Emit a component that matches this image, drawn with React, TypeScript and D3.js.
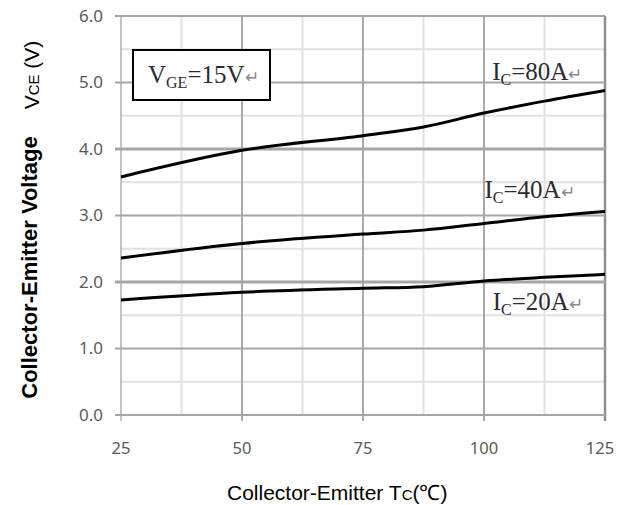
import React from "react";
import * as d3 from "d3";

const temps = [25, 50, 75, 87.5, 100, 112.5, 125];
const vce80 = [3.58, 3.98, 4.2, 4.33, 4.54, 4.72, 4.88];
const vce40 = [2.36, 2.58, 2.72, 2.78, 2.88, 2.98, 3.06];
const vce20 = [1.73, 1.845, 1.905, 1.93, 2.015, 2.07, 2.115];
const xTicks = [25, 50, 75, 100, 125];
const yTicks = [0, 1, 2, 3, 4, 5, 6];
const xMinor = [37.5, 62.5, 87.5, 112.5];
const yMinor = [0.5, 1.5, 2.5, 3.5, 4.5, 5.5];
const seriesLabels = [
  { cur: "80A", t: 101.7, v: 5.04 },
  { cur: "40A", t: 100.1, v: 3.27 },
  { cur: "20A", t: 101.8, v: 1.58 },
];

const W = 618, H = 505;
const L = 121, R = 605, T = 16, B = 415;

export default function App() {
  const x = d3.scaleLinear().domain([25, 125]).range([L, R]);
  const y = d3.scaleLinear().domain([0, 6]).range([B, T]);
  const line = d3
    .line<number>()
    .x((_, i) => x(temps[i]))
    .y((d) => y(d))
    .curve(d3.curveMonotoneX);
  const series = [vce80, vce40, vce20];
  const serif = "'Liberation Serif', 'Times New Roman', serif";
  const sans = "'Liberation Sans', Arial, sans-serif";
  const tickFont = "'Noto Sans', 'Open Sans', sans-serif";

  return (
    <svg
      width={W}
      height={H}
      style={{ position: "absolute", left: 0, top: 0, background: "#fff" }}
    >
      {/* minor grid */}
      {xMinor.map((t) => (
        <line key={"xm" + t} x1={x(t)} x2={x(t)} y1={T} y2={B} stroke="#e2e2e2" strokeWidth={2} />
      ))}
      {yMinor.map((v) => (
        <line key={"ym" + v} x1={L} x2={R} y1={y(v)} y2={y(v)} stroke="#e2e2e2" strokeWidth={2} />
      ))}
      {/* major grid */}
      {xTicks.map((t) => (
        <line key={"xg" + t} x1={x(t)} x2={x(t)} y1={T} y2={B + 6} stroke={t === 25 ? "#b0b0b0" : "#8e8e8e"} strokeWidth={t === 125 ? 2.5 : 1.5} />
      ))}
      {yTicks.map((v) => (
        <line key={"yg" + v} x1={L - 6} x2={R} y1={y(v)} y2={y(v)} stroke="#a6a6a6" strokeWidth={v === 2 || v === 4 ? 3 : 2} />
      ))}
      {/* tick labels */}
      {yTicks.map((v) => (
        <text key={"yl" + v} x={103} y={y(v)} dy="0.35em" textAnchor="end" fontFamily={tickFont} fontSize={17} fill="#5a5a5a">
          {v.toFixed(1)}
        </text>
      ))}
      {xTicks.map((t) => (
        <text key={"xl" + t} x={Math.min(x(t), 600)} y={448} dy="0.35em" textAnchor="middle" fontFamily={tickFont} fontSize={16.5} fill="#5a5a5a">
          {t}
        </text>
      ))}
      {/* curves */}
      {series.map((s, i) => (
        <path key={"s" + i} d={line(s) || ""} fill="none" stroke="#000" strokeWidth={3} />
      ))}
      {/* curve labels */}
      {seriesLabels.map((lb) => (
        <text key={lb.cur} x={x(lb.t)} y={y(lb.v)} fontFamily={serif} fontSize={25} fill="#2b2b33">
          I<tspan fontSize={16} dy={5}>C</tspan>
          <tspan dy={-5}>={lb.cur}</tspan>
          <tspan fontSize={17} fill="#888">↵</tspan>
        </text>
      ))}
      {/* legend box */}
      <rect x={133} y={50} width={137} height={50} fill="#fff" stroke="#000" strokeWidth={2} />
      <text x={148} y={83} fontFamily={serif} fontSize={25} fill="#2b2b33">
        V<tspan fontSize={16} dy={5}>GE</tspan>
        <tspan dy={-5}>=15V</tspan>
        <tspan fontSize={17} fill="#888">↵</tspan>
      </text>
      {/* y title */}
      <text transform="translate(37,267.5) rotate(-90)" textAnchor="middle" fontFamily={sans} fontWeight="bold" fontSize={22} fill="#000">
        Collector-Emitter Voltage
      </text>
      <text transform="translate(39,75) rotate(-90)" textAnchor="middle" fontFamily={sans} fontSize={21} fill="#000">
        V<tspan fontSize={15}>CE</tspan> (V)
      </text>
      {/* x title */}
      <text x={227} y={500} fontFamily={sans} fontSize={21} fill="#000">
        Collector-Emitter T<tspan fontSize={15}>C</tspan>(℃)
      </text>
    </svg>
  );
}
